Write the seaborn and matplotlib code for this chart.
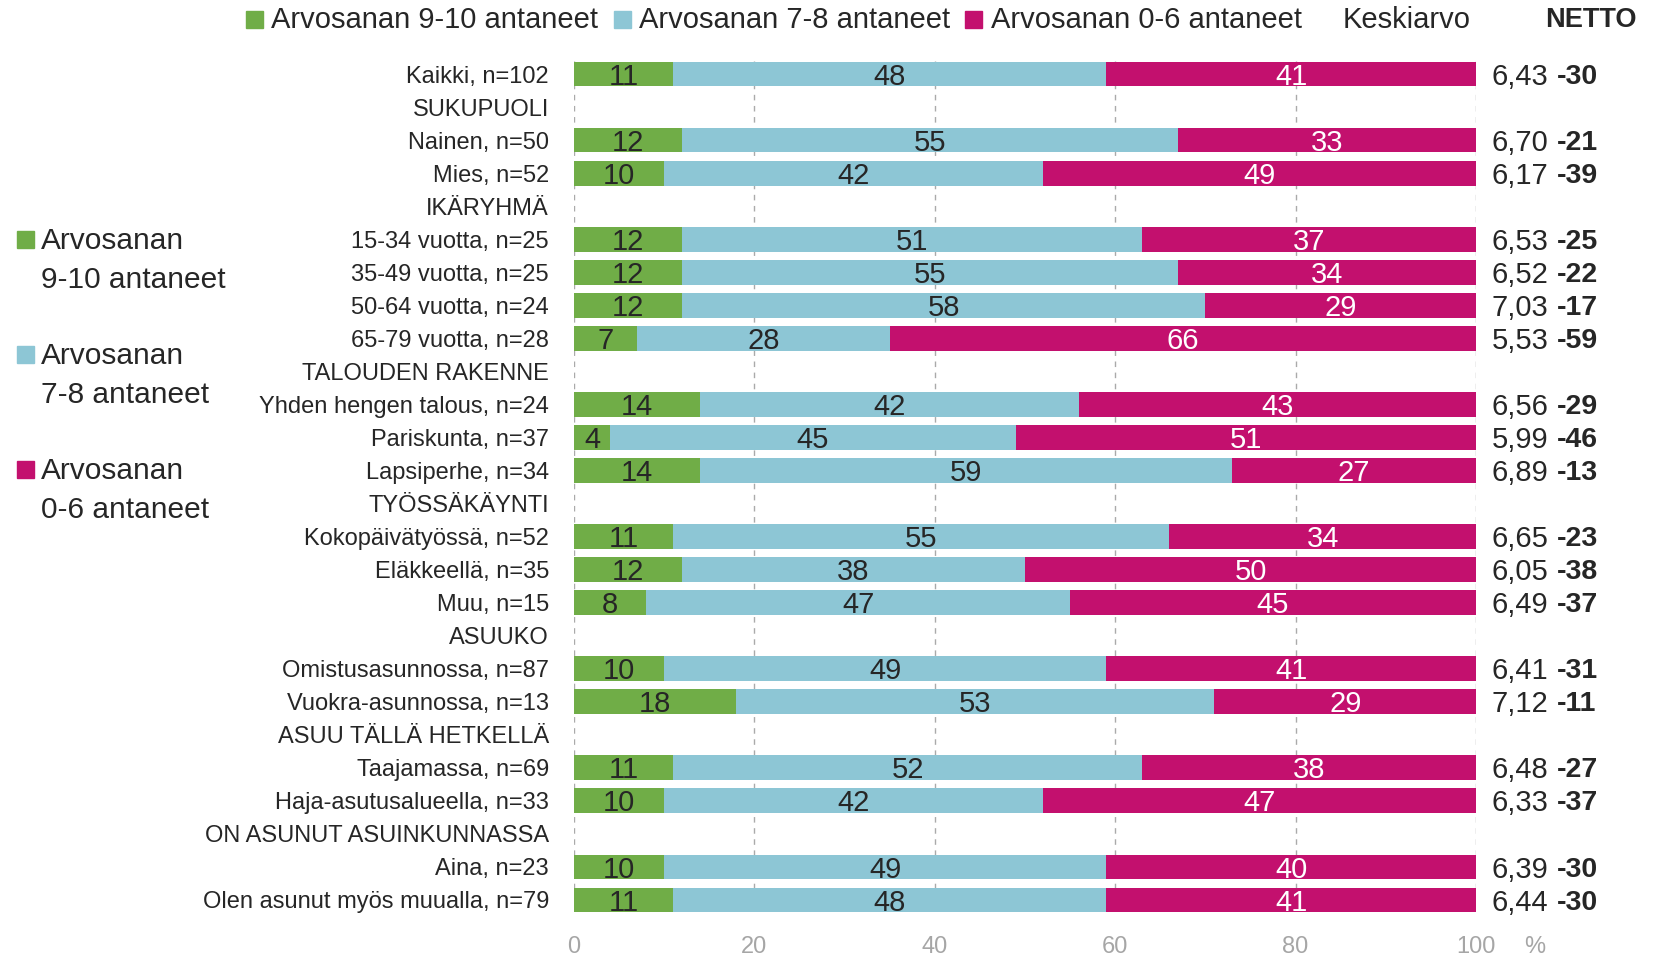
import matplotlib
matplotlib.use('Agg')
import matplotlib.pyplot as plt
from matplotlib.patches import Rectangle
import seaborn as sns
import numpy as np
import pandas as pd

# rows top to bottom; headers have no values
categories = ['Kaikki, n=102', 'SUKUPUOLI', 'Nainen, n=50', 'Mies, n=52', 'IKÄRYHMÄ',
              '15-34 vuotta, n=25', '35-49 vuotta, n=25', '50-64 vuotta, n=24', '65-79 vuotta, n=28',
              'TALOUDEN RAKENNE', 'Yhden hengen talous, n=24', 'Pariskunta, n=37', 'Lapsiperhe, n=34',
              'TYÖSSÄKÄYNTI', 'Kokopäivätyössä, n=52', 'Eläkkeellä, n=35', 'Muu, n=15',
              'ASUUKO', 'Omistusasunnossa, n=87', 'Vuokra-asunnossa, n=13',
              'ASUU TÄLLÄ HETKELLÄ', 'Taajamassa, n=69', 'Haja-asutusalueella, n=33',
              'ON ASUNUT ASUINKUNNASSA', 'Aina, n=23', 'Olen asunut myös muualla, n=79']
nan = np.nan
high = [11, nan, 12, 10, nan, 12, 12, 12, 7, nan, 14, 4, 14, nan, 11, 12, 8, nan, 10, 18, nan, 11, 10, nan, 10, 11]
mid = [48, nan, 55, 42, nan, 51, 55, 58, 28, nan, 42, 45, 59, nan, 55, 38, 47, nan, 49, 53, nan, 52, 42, nan, 49, 48]
low = [41, nan, 33, 49, nan, 37, 34, 29, 66, nan, 43, 51, 27, nan, 34, 50, 45, nan, 41, 29, nan, 38, 47, nan, 40, 41]
means = [6.43, nan, 6.70, 6.17, nan, 6.53, 6.52, 7.03, 5.53, nan, 6.56, 5.99, 6.89, nan, 6.65, 6.05, 6.49,
         nan, 6.41, 7.12, nan, 6.48, 6.33, nan, 6.39, 6.44]
netto = [-30, nan, -21, -39, nan, -25, -22, -17, -59, nan, -29, -46, -13, nan, -23, -38, -37,
         nan, -31, -11, nan, -27, -37, nan, -30, -30]
series_names = ['Arvosanan 9-10 antaneet', 'Arvosanan 7-8 antaneet', 'Arvosanan 0-6 antaneet']
left_legend = ['Arvosanan\n9-10 antaneet', 'Arvosanan\n7-8 antaneet', 'Arvosanan\n0-6 antaneet']
xticks = [0, 20, 40, 60, 80, 100]

GREEN = '#70AD47'
BLUE = '#8DC6D5'
PINK = '#C3106E'
TXT = '#262626'
GRAY = '#A6A6A6'

sns.set_style('white')
plt.rcParams['font.family'] = ['Liberation Sans Narrow', 'Liberation Sans', 'DejaVu Sans']

df = pd.DataFrame({'cat': categories, 'high': high, 'mid': mid, 'low': low})
df['hm'] = df['high'] + df['mid']
df['full'] = np.where(df['high'].notna(), 100.0, np.nan)

W, H = 1665, 963
fig = plt.figure(figsize=(W / 100, H / 100), dpi=100)
ax = fig.add_axes([574 / W, 0.0449, (1476 - 574) / W, 0.8988])

# stacked bars drawn as overlapping cumulative bars
for col, colr in [('full', PINK), ('hm', BLUE), ('high', GREEN)]:
    sns.barplot(data=df, x=col, y='cat', order=categories, orient='h', color=colr,
                width=0.75, linewidth=0, saturation=1, ax=ax, zorder=3)

ax.set_xlim(0, 100)
ax.set_ylim(len(categories) - 0.4, -0.6)
ax.set_xlabel('')
ax.set_ylabel('')
for s in ax.spines.values():
    s.set_visible(False)
ax.set_xticks(xticks)
ax.tick_params(axis='x', length=0, pad=12, labelsize=17, labelcolor=GRAY)
ax.tick_params(axis='y', length=0, pad=18, labelsize=17, labelcolor=TXT)
for lab in ax.get_yticklabels():
    lab.set_y(lab.get_position()[1])
for xv in xticks:
    ax.plot([xv, xv], [-0.4, len(categories) - 0.6], color='#AAAAAA', lw=1, ls=(0, (4, 4)), zorder=1)

# value labels
dy = 0.08
for i, row in df.iterrows():
    if np.isnan(row['high']):
        continue
    g, b, p = row['high'], row['mid'], row['low']
    ax.text(g / 2, i + dy, f'{g:.0f}', ha='center', va='center', fontsize=21, color=TXT, zorder=5)
    ax.text(g + b / 2, i + dy, f'{b:.0f}', ha='center', va='center', fontsize=21, color=TXT, zorder=5)
    ax.text((g + b + 100) / 2, i + dy, f'{p:.0f}', ha='center', va='center', fontsize=21, color='white', zorder=5)
    ax.text(1.0177, i + dy, f'{means[i]:.2f}'.replace('.', ','), transform=ax.get_yaxis_transform(),
            ha='left', va='center', fontsize=21, color=TXT)
    ax.text(1.0898, i + dy, f'{netto[i]:.0f}', transform=ax.get_yaxis_transform(),
            ha='left', va='center', fontsize=20.5, color=TXT, fontweight='bold')


def fx(x):
    return x / W


def fy(y):
    return 1 - y / H


fig.text(fx(1535), fy(947), '%', ha='center', va='center', fontsize=17, color=GRAY)

# top legend
colors = [GREEN, BLUE, PINK]
for sq_x, txt_x, c, name in zip([246, 614, 965], [271, 639, 991], colors, series_names):
    fig.patches.append(Rectangle((fx(sq_x), fy(28)), fx(17), 17 / H, color=c, transform=fig.transFigure))
    fig.text(fx(txt_x), fy(20), name, ha='left', va='center', fontsize=21, color=TXT)
fig.text(fx(1343), fy(20), 'Keskiarvo', ha='left', va='center', fontsize=21, color=TXT)
fig.text(fx(1545), fy(20), 'NETTO', ha='left', va='center', fontsize=19.5, color=TXT, fontweight='bold')

# left legend
for y1, c, name in zip([240, 355, 470], colors, left_legend):
    fig.patches.append(Rectangle((fx(17), fy(y1 + 8)), fx(17), 17 / H, color=c, transform=fig.transFigure))
    l1, l2 = name.split('\n')
    fig.text(fx(41), fy(y1 + 1), l1, ha='left', va='center', fontsize=21.5, color=TXT)
    fig.text(fx(41), fy(y1 + 40), l2, ha='left', va='center', fontsize=21.5, color=TXT)

fig.savefig('out.png', dpi=100)
